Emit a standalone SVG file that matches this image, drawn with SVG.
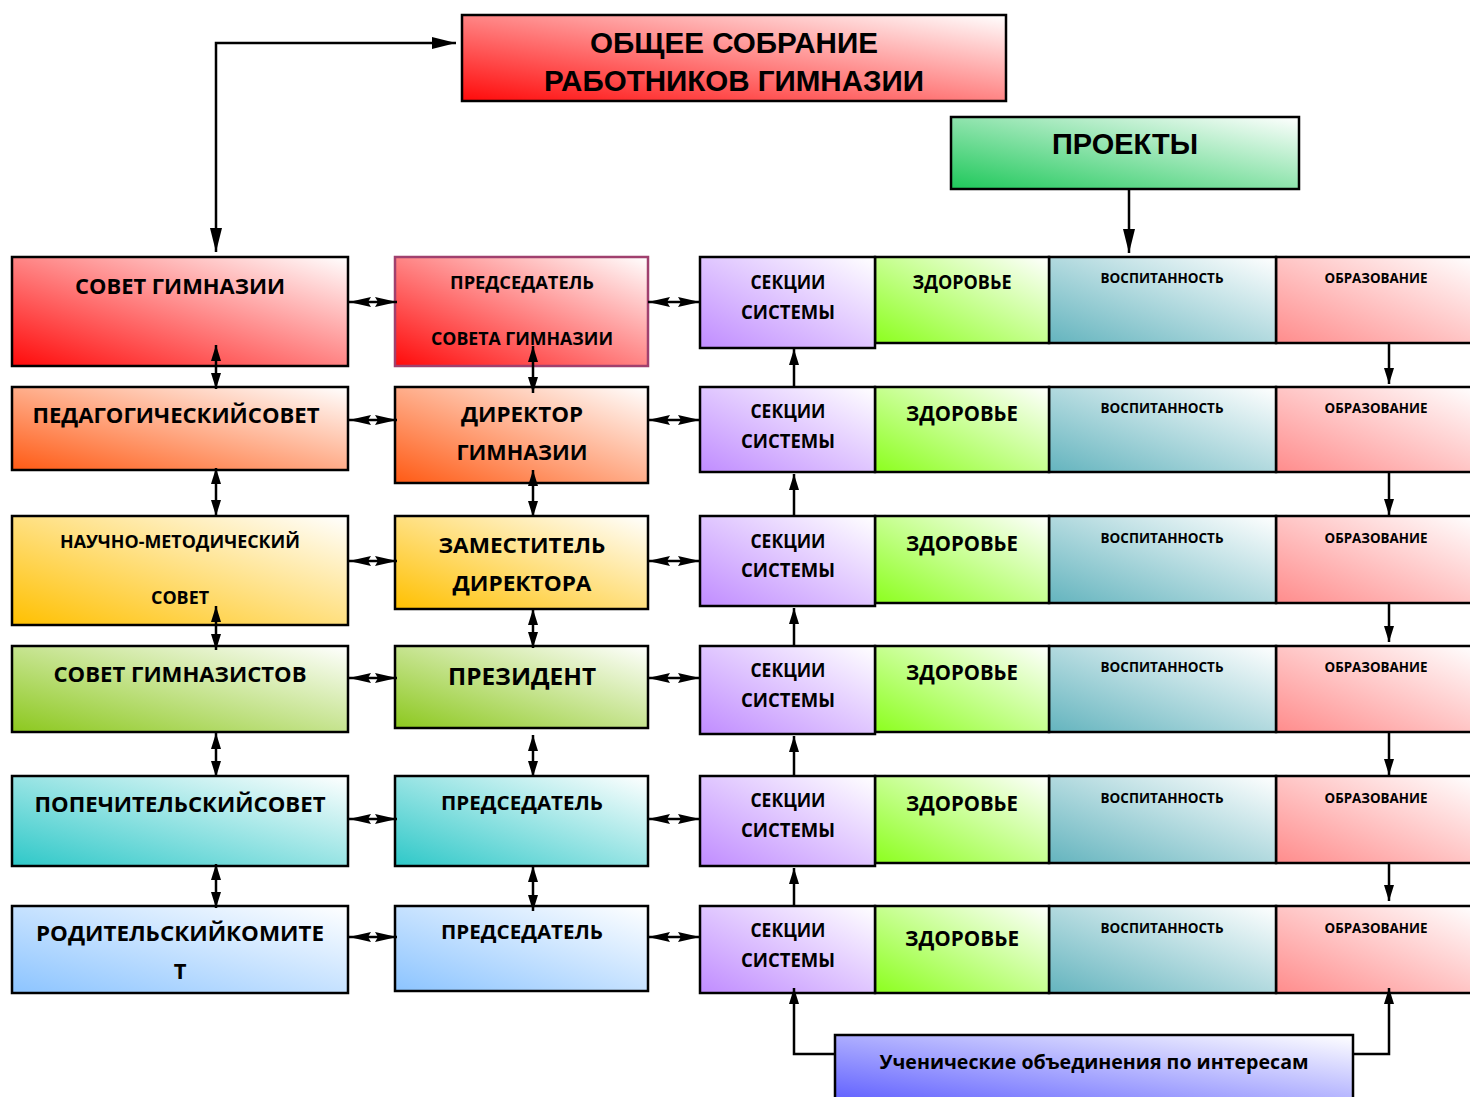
<svg xmlns="http://www.w3.org/2000/svg" width="1470" height="1097" viewBox="0 0 1470 1097">
<defs>
<style>
.b{stroke:#000;stroke-width:2.5}
.t{font-family:"Open Sans","Noto Sans","DejaVu Sans",sans-serif;font-weight:bold;fill:#000;text-anchor:middle}
.a{font-family:"Liberation Sans",Arial,sans-serif;font-weight:bold;fill:#000;text-anchor:middle}
.c{fill:none;stroke:#000;stroke-width:2.5}
</style>
<linearGradient id="gRed" x1="0" y1="1" x2="1" y2="0"><stop offset="0" stop-color="#ff0a0a"/><stop offset="1" stop-color="#ffffff"/></linearGradient>
<linearGradient id="gOr" x1="0" y1="1" x2="1" y2="0"><stop offset="0" stop-color="#ff5a14"/><stop offset="1" stop-color="#ffffff"/></linearGradient>
<linearGradient id="gYe" x1="0" y1="1" x2="1" y2="0"><stop offset="0" stop-color="#ffc000"/><stop offset="1" stop-color="#ffffff"/></linearGradient>
<linearGradient id="gOl" x1="0" y1="1" x2="1" y2="0"><stop offset="0" stop-color="#8cc81e"/><stop offset="1" stop-color="#ffffff"/></linearGradient>
<linearGradient id="gTe" x1="0" y1="1" x2="1" y2="0"><stop offset="0" stop-color="#2ec8c8"/><stop offset="1" stop-color="#ffffff"/></linearGradient>
<linearGradient id="gBl" x1="0" y1="1" x2="1" y2="0"><stop offset="0" stop-color="#8cc4ff"/><stop offset="1" stop-color="#ffffff"/></linearGradient>
<linearGradient id="gVi" x1="0" y1="1" x2="1" y2="0"><stop offset="0" stop-color="#c08cff"/><stop offset="1" stop-color="#ffffff"/></linearGradient>
<linearGradient id="gLi" x1="0" y1="1" x2="1" y2="0"><stop offset="0" stop-color="#8cff1e"/><stop offset="1" stop-color="#ffffff"/></linearGradient>
<linearGradient id="gCy" x1="0" y1="1" x2="1" y2="0"><stop offset="0" stop-color="#64b4be"/><stop offset="1" stop-color="#ffffff"/></linearGradient>
<linearGradient id="gPi" x1="0" y1="1" x2="1" y2="0"><stop offset="0" stop-color="#ff8c8c"/><stop offset="1" stop-color="#ffffff"/></linearGradient>
<linearGradient id="gIn" x1="0" y1="1" x2="1" y2="0"><stop offset="0" stop-color="#5a5aff"/><stop offset="1" stop-color="#ffffff"/></linearGradient>
<linearGradient id="gGr" x1="0" y1="1" x2="1" y2="0"><stop offset="0" stop-color="#1ec85a"/><stop offset="1" stop-color="#ffffff"/></linearGradient>
<marker id="ah" markerUnits="userSpaceOnUse" markerWidth="24" markerHeight="12" refX="24" refY="6" orient="auto-start-reverse"><path d="M0,0 L24,6 L0,12 Z" fill="#000"/></marker>
<marker id="am" markerUnits="userSpaceOnUse" markerWidth="22" markerHeight="12" refX="22" refY="6" orient="auto-start-reverse"><path d="M0,1 L22,6 L0,11 L3,6 Z" fill="#000"/></marker>
<marker id="av" markerUnits="userSpaceOnUse" markerWidth="16" markerHeight="10" refX="16" refY="5" orient="auto-start-reverse"><path d="M0,0 L16,5 L0,10 Z" fill="#000"/></marker>
</defs>

<g id="n-meeting"><rect class="b" x="462" y="15" width="544" height="86" fill="url(#gRed)"/>
<text class="a" x="734" y="53" font-size="29" textLength="288" lengthAdjust="spacingAndGlyphs">ОБЩЕЕ СОБРАНИЕ</text>
<text class="a" x="734" y="91" font-size="29" textLength="380" lengthAdjust="spacingAndGlyphs">РАБОТНИКОВ ГИМНАЗИИ</text></g>

<g id="n-projects"><rect class="b" x="951" y="117" width="348" height="72" fill="url(#gGr)"/>
<text class="a" x="1125" y="154" font-size="30" textLength="146" lengthAdjust="spacingAndGlyphs">ПРОЕКТЫ</text></g>

<!-- left column -->
<g id="n-sovet"><rect class="b" x="12" y="257" width="336" height="109" fill="url(#gRed)"/>
<text class="t" x="180" y="294" font-size="22" textLength="210" lengthAdjust="spacingAndGlyphs">СОВЕТ ГИМНАЗИИ</text></g>
<g id="n-ped"><rect class="b" x="12" y="387" width="336" height="83" fill="url(#gOr)"/>
<text class="t" x="176" y="423" font-size="22" textLength="287" lengthAdjust="spacingAndGlyphs">ПЕДАГОГИЧЕСКИЙСОВЕТ</text></g>
<g id="n-nms"><rect class="b" x="12" y="516" width="336" height="109" fill="url(#gYe)"/>
<text class="t" x="180" y="548" font-size="18" textLength="240" lengthAdjust="spacingAndGlyphs">НАУЧНО-МЕТОДИЧЕСКИЙ</text>
<text class="t" x="180" y="604" font-size="18" textLength="58" lengthAdjust="spacingAndGlyphs">СОВЕТ</text></g>
<g id="n-gimn"><rect class="b" x="12" y="646" width="336" height="86" fill="url(#gOl)"/>
<text class="t" x="180" y="682" font-size="22" textLength="253" lengthAdjust="spacingAndGlyphs">СОВЕТ ГИМНАЗИСТОВ</text></g>
<g id="n-pop"><rect class="b" x="12" y="776" width="336" height="90" fill="url(#gTe)"/>
<text class="t" x="180" y="812" font-size="22" textLength="291" lengthAdjust="spacingAndGlyphs">ПОПЕЧИТЕЛЬСКИЙСОВЕТ</text></g>
<g id="n-rod"><rect class="b" x="12" y="906" width="336" height="87" fill="url(#gBl)"/>
<text class="t" x="180" y="941" font-size="22" textLength="288" lengthAdjust="spacingAndGlyphs">РОДИТЕЛЬСКИЙКОМИТЕ</text>
<text class="t" x="180" y="979" font-size="22">Т</text></g>

<!-- middle column -->
<g id="n-pred1"><rect x="395" y="257" width="253" height="109" fill="url(#gRed)" stroke="#a0406e" stroke-width="2.5"/>
<text class="t" x="522" y="289" font-size="18" textLength="144" lengthAdjust="spacingAndGlyphs">ПРЕДСЕДАТЕЛЬ</text>
<text class="t" x="522" y="345" font-size="18" textLength="182" lengthAdjust="spacingAndGlyphs">СОВЕТА ГИМНАЗИИ</text></g>
<g id="n-dir"><rect class="b" x="395" y="387" width="253" height="96" fill="url(#gOr)"/>
<text class="t" x="522" y="422" font-size="22" textLength="122" lengthAdjust="spacingAndGlyphs">ДИРЕКТОР</text>
<text class="t" x="522" y="460" font-size="22" textLength="131" lengthAdjust="spacingAndGlyphs">ГИМНАЗИИ</text></g>
<g id="n-zam"><rect class="b" x="395" y="516" width="253" height="93" fill="url(#gYe)"/>
<text class="t" x="522" y="553" font-size="22" textLength="167" lengthAdjust="spacingAndGlyphs">ЗАМЕСТИТЕЛЬ</text>
<text class="t" x="522" y="591" font-size="22" textLength="139" lengthAdjust="spacingAndGlyphs">ДИРЕКТОРА</text></g>
<g id="n-pres"><rect class="b" x="395" y="646" width="253" height="82" fill="url(#gOl)"/>
<text class="t" x="522" y="685" font-size="24" textLength="148" lengthAdjust="spacingAndGlyphs">ПРЕЗИДЕНТ</text></g>
<g id="n-pred2"><rect class="b" x="395" y="776" width="253" height="90" fill="url(#gTe)"/>
<text class="t" x="522" y="810" font-size="20" textLength="162" lengthAdjust="spacingAndGlyphs">ПРЕДСЕДАТЕЛЬ</text></g>
<g id="n-pred3"><rect class="b" x="395" y="906" width="253" height="85" fill="url(#gBl)"/>
<text class="t" x="522" y="939" font-size="20" textLength="162" lengthAdjust="spacingAndGlyphs">ПРЕДСЕДАТЕЛЬ</text></g>

<!-- row 1 strip -->
<g id="n-r1-obr"><rect class="b" x="1276" y="257" width="200" height="86" fill="url(#gPi)"/><text class="t" x="1376" y="283" font-size="14" textLength="103" lengthAdjust="spacingAndGlyphs">ОБРАЗОВАНИЕ</text></g>
<g id="n-r1-vos"><rect class="b" x="1049" y="257" width="227" height="86" fill="url(#gCy)"/><text class="t" x="1162" y="283" font-size="14" textLength="123" lengthAdjust="spacingAndGlyphs">ВОСПИТАННОСТЬ</text></g>
<g id="n-r1-zdr"><rect class="b" x="875" y="257" width="174" height="86" fill="url(#gLi)"/><text class="t" x="962" y="289" font-size="19" textLength="99" lengthAdjust="spacingAndGlyphs">ЗДОРОВЬЕ</text></g>
<g id="n-r1-sek"><rect class="b" x="700" y="257" width="175" height="91" fill="url(#gVi)"/><text class="t" x="788" y="289" font-size="19" textLength="75" lengthAdjust="spacingAndGlyphs">СЕКЦИИ</text><text class="t" x="788" y="319" font-size="19" textLength="94" lengthAdjust="spacingAndGlyphs">СИСТЕМЫ</text></g>

<!-- row 2 strip -->
<g id="n-r2-obr"><rect class="b" x="1276" y="387" width="200" height="85" fill="url(#gPi)"/><text class="t" x="1376" y="413" font-size="14" textLength="103" lengthAdjust="spacingAndGlyphs">ОБРАЗОВАНИЕ</text></g>
<g id="n-r2-vos"><rect class="b" x="1049" y="387" width="227" height="85" fill="url(#gCy)"/><text class="t" x="1162" y="413" font-size="14" textLength="123" lengthAdjust="spacingAndGlyphs">ВОСПИТАННОСТЬ</text></g>
<g id="n-r2-zdr"><rect class="b" x="875" y="387" width="174" height="85" fill="url(#gLi)"/><text class="t" x="962" y="421" font-size="22" textLength="112" lengthAdjust="spacingAndGlyphs">ЗДОРОВЬЕ</text></g>
<g id="n-r2-sek"><rect class="b" x="700" y="387" width="175" height="85" fill="url(#gVi)"/><text class="t" x="788" y="418" font-size="19" textLength="75" lengthAdjust="spacingAndGlyphs">СЕКЦИИ</text><text class="t" x="788" y="448" font-size="19" textLength="94" lengthAdjust="spacingAndGlyphs">СИСТЕМЫ</text></g>

<!-- row 3 strip -->
<g id="n-r3-obr"><rect class="b" x="1276" y="516" width="200" height="87" fill="url(#gPi)"/><text class="t" x="1376" y="543" font-size="14" textLength="103" lengthAdjust="spacingAndGlyphs">ОБРАЗОВАНИЕ</text></g>
<g id="n-r3-vos"><rect class="b" x="1049" y="516" width="227" height="87" fill="url(#gCy)"/><text class="t" x="1162" y="543" font-size="14" textLength="123" lengthAdjust="spacingAndGlyphs">ВОСПИТАННОСТЬ</text></g>
<g id="n-r3-zdr"><rect class="b" x="875" y="516" width="174" height="87" fill="url(#gLi)"/><text class="t" x="962" y="551" font-size="22" textLength="112" lengthAdjust="spacingAndGlyphs">ЗДОРОВЬЕ</text></g>
<g id="n-r3-sek"><rect class="b" x="700" y="516" width="175" height="90" fill="url(#gVi)"/><text class="t" x="788" y="548" font-size="19" textLength="75" lengthAdjust="spacingAndGlyphs">СЕКЦИИ</text><text class="t" x="788" y="577" font-size="19" textLength="94" lengthAdjust="spacingAndGlyphs">СИСТЕМЫ</text></g>

<!-- row 4 strip -->
<g id="n-r4-obr"><rect class="b" x="1276" y="646" width="200" height="86" fill="url(#gPi)"/><text class="t" x="1376" y="672" font-size="14" textLength="103" lengthAdjust="spacingAndGlyphs">ОБРАЗОВАНИЕ</text></g>
<g id="n-r4-vos"><rect class="b" x="1049" y="646" width="227" height="86" fill="url(#gCy)"/><text class="t" x="1162" y="672" font-size="14" textLength="123" lengthAdjust="spacingAndGlyphs">ВОСПИТАННОСТЬ</text></g>
<g id="n-r4-zdr"><rect class="b" x="875" y="646" width="174" height="86" fill="url(#gLi)"/><text class="t" x="962" y="680" font-size="22" textLength="112" lengthAdjust="spacingAndGlyphs">ЗДОРОВЬЕ</text></g>
<g id="n-r4-sek"><rect class="b" x="700" y="646" width="175" height="88" fill="url(#gVi)"/><text class="t" x="788" y="677" font-size="19" textLength="75" lengthAdjust="spacingAndGlyphs">СЕКЦИИ</text><text class="t" x="788" y="707" font-size="19" textLength="94" lengthAdjust="spacingAndGlyphs">СИСТЕМЫ</text></g>

<!-- row 5 strip -->
<g id="n-r5-obr"><rect class="b" x="1276" y="776" width="200" height="87" fill="url(#gPi)"/><text class="t" x="1376" y="803" font-size="14" textLength="103" lengthAdjust="spacingAndGlyphs">ОБРАЗОВАНИЕ</text></g>
<g id="n-r5-vos"><rect class="b" x="1049" y="776" width="227" height="87" fill="url(#gCy)"/><text class="t" x="1162" y="803" font-size="14" textLength="123" lengthAdjust="spacingAndGlyphs">ВОСПИТАННОСТЬ</text></g>
<g id="n-r5-zdr"><rect class="b" x="875" y="776" width="174" height="87" fill="url(#gLi)"/><text class="t" x="962" y="811" font-size="22" textLength="112" lengthAdjust="spacingAndGlyphs">ЗДОРОВЬЕ</text></g>
<g id="n-r5-sek"><rect class="b" x="700" y="776" width="175" height="90" fill="url(#gVi)"/><text class="t" x="788" y="807" font-size="19" textLength="75" lengthAdjust="spacingAndGlyphs">СЕКЦИИ</text><text class="t" x="788" y="837" font-size="19" textLength="94" lengthAdjust="spacingAndGlyphs">СИСТЕМЫ</text></g>

<!-- row 6 strip -->
<g id="n-r6-obr"><rect class="b" x="1276" y="906" width="200" height="87" fill="url(#gPi)"/><text class="t" x="1376" y="933" font-size="14" textLength="103" lengthAdjust="spacingAndGlyphs">ОБРАЗОВАНИЕ</text></g>
<g id="n-r6-vos"><rect class="b" x="1049" y="906" width="227" height="87" fill="url(#gCy)"/><text class="t" x="1162" y="933" font-size="14" textLength="123" lengthAdjust="spacingAndGlyphs">ВОСПИТАННОСТЬ</text></g>
<g id="n-r6-zdr"><rect class="b" x="875" y="906" width="174" height="87" fill="url(#gLi)"/><text class="t" x="962" y="946" font-size="22" textLength="114" lengthAdjust="spacingAndGlyphs">ЗДОРОВЬЕ</text></g>
<g id="n-r6-sek"><rect class="b" x="700" y="906" width="175" height="87" fill="url(#gVi)"/><text class="t" x="788" y="937" font-size="19" textLength="75" lengthAdjust="spacingAndGlyphs">СЕКЦИИ</text><text class="t" x="788" y="967" font-size="19" textLength="94" lengthAdjust="spacingAndGlyphs">СИСТЕМЫ</text></g>

<g id="n-students"><rect class="b" x="835" y="1035" width="518" height="72" fill="url(#gIn)"/>
<text class="t" x="1094" y="1069" font-size="20" textLength="429" lengthAdjust="spacingAndGlyphs">Ученические объединения по интересам</text></g>

<g id="connectors">
<path class="c" d="M216,252 V43 H456" marker-start="url(#ah)" marker-end="url(#ah)"/>
<path class="c" d="M1129,189 V253" marker-end="url(#ah)"/>
<path class="c" d="M349,302 H397" marker-start="url(#am)" marker-end="url(#am)"/>
<path class="c" d="M349,420 H397" marker-start="url(#am)" marker-end="url(#am)"/>
<path class="c" d="M349,561 H397" marker-start="url(#am)" marker-end="url(#am)"/>
<path class="c" d="M349,678 H397" marker-start="url(#am)" marker-end="url(#am)"/>
<path class="c" d="M349,819 H397" marker-start="url(#am)" marker-end="url(#am)"/>
<path class="c" d="M349,937 H397" marker-start="url(#am)" marker-end="url(#am)"/>
<path class="c" d="M648,302 H700" marker-start="url(#am)" marker-end="url(#am)"/>
<path class="c" d="M648,420 H700" marker-start="url(#am)" marker-end="url(#am)"/>
<path class="c" d="M648,561 H700" marker-start="url(#am)" marker-end="url(#am)"/>
<path class="c" d="M648,678 H700" marker-start="url(#am)" marker-end="url(#am)"/>
<path class="c" d="M648,819 H700" marker-start="url(#am)" marker-end="url(#am)"/>
<path class="c" d="M648,937 H700" marker-start="url(#am)" marker-end="url(#am)"/>
<path class="c" d="M216,345 V389" marker-start="url(#av)" marker-end="url(#av)"/>
<path class="c" d="M216,468 V516" marker-start="url(#av)" marker-end="url(#av)"/>
<path class="c" d="M216,606 V650" marker-start="url(#av)" marker-end="url(#av)"/>
<path class="c" d="M216,733 V777" marker-start="url(#av)" marker-end="url(#av)"/>
<path class="c" d="M216,864 V908" marker-start="url(#av)" marker-end="url(#av)"/>
<path class="c" d="M533,346 V393" marker-start="url(#av)" marker-end="url(#av)"/>
<path class="c" d="M533,470 V517" marker-start="url(#av)" marker-end="url(#av)"/>
<path class="c" d="M533,609 V648" marker-start="url(#av)" marker-end="url(#av)"/>
<path class="c" d="M533,735 V777" marker-start="url(#av)" marker-end="url(#av)"/>
<path class="c" d="M533,866 V911" marker-start="url(#av)" marker-end="url(#av)"/>
<path class="c" d="M794,387 V349" marker-end="url(#av)"/>
<path class="c" d="M794,516 V474" marker-end="url(#av)"/>
<path class="c" d="M794,646 V608" marker-end="url(#av)"/>
<path class="c" d="M794,776 V736" marker-end="url(#av)"/>
<path class="c" d="M794,906 V868" marker-end="url(#av)"/>
<path class="c" d="M1389,343 V384" marker-end="url(#av)"/>
<path class="c" d="M1389,472 V515" marker-end="url(#av)"/>
<path class="c" d="M1389,603 V642" marker-end="url(#av)"/>
<path class="c" d="M1389,732 V775" marker-end="url(#av)"/>
<path class="c" d="M1389,863 V901" marker-end="url(#av)"/>
<path class="c" d="M835,1054 H794 V988" marker-end="url(#av)"/>
<path class="c" d="M1353,1054 H1389 V988" marker-end="url(#av)"/>
</g>
</svg>
